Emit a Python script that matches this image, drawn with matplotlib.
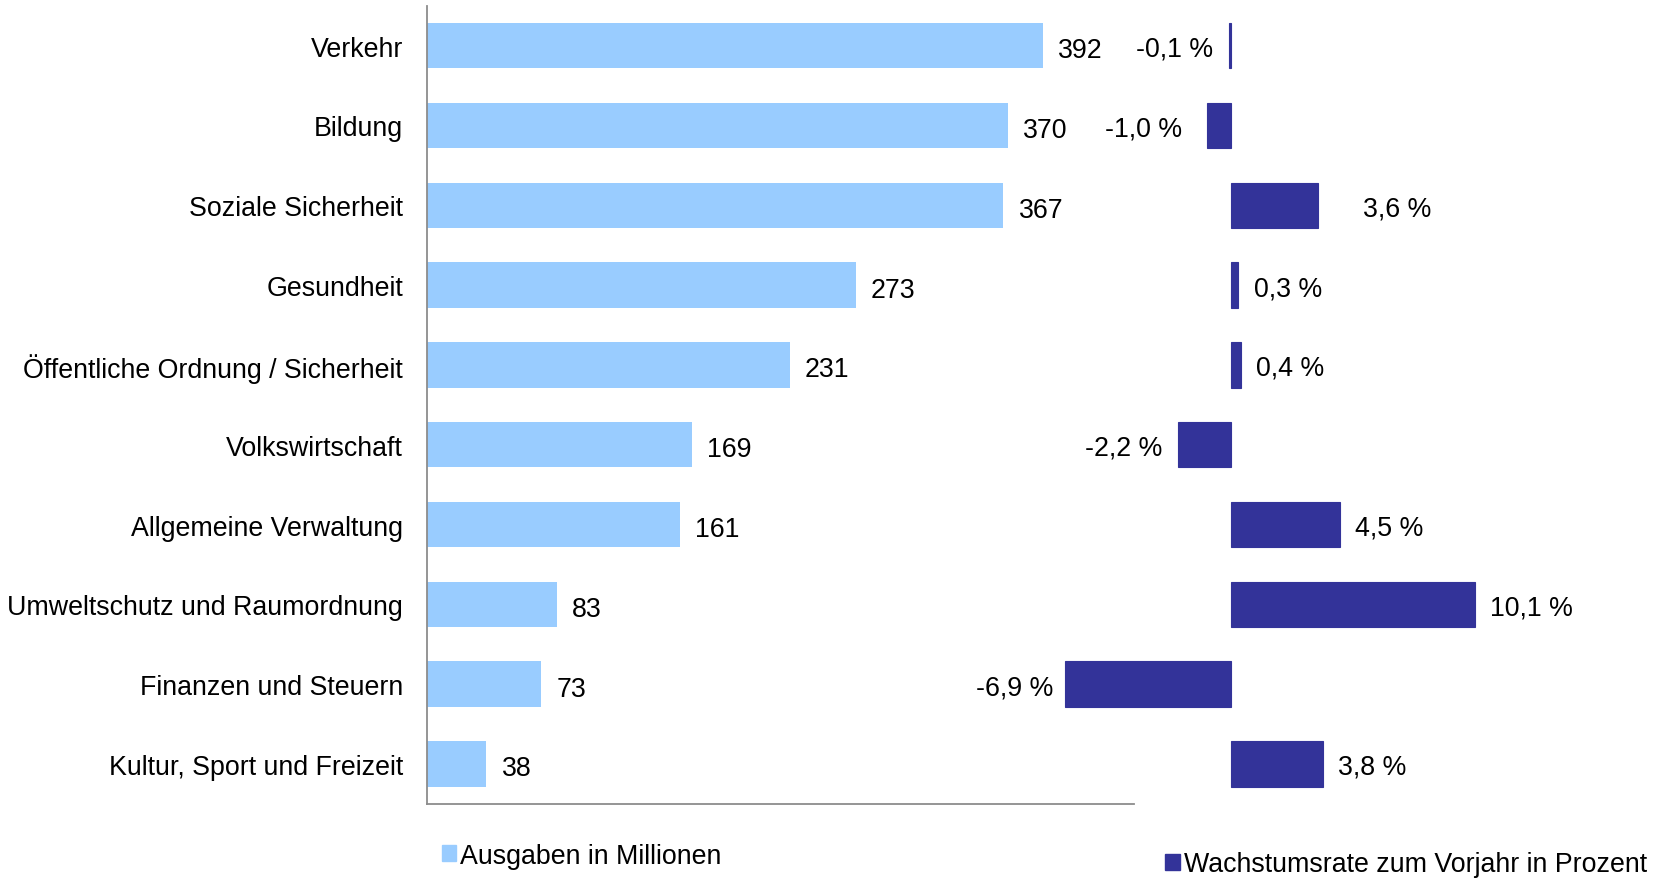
import numpy as np
import matplotlib.pyplot as plt
from matplotlib.patches import Patch

plt.rcParams['font.family'] = ['Liberation Sans', 'DejaVu Sans']

# Kategorien (von oben nach unten)
categories = [
    "Verkehr",
    "Bildung",
    "Soziale Sicherheit",
    "Gesundheit",
    "Öffentliche Ordnung / Sicherheit",
    "Volkswirtschaft",
    "Allgemeine Verwaltung",
    "Umweltschutz und Raumordnung",
    "Finanzen und Steuern",
    "Kultur, Sport und Freizeit",
]
# Ausgaben in Millionen
ausgaben = [392, 370, 367, 273, 231, 169, 161, 83, 73, 38]
# Wachstumsrate zum Vorjahr in Prozent
wachstum = [-0.1, -1.0, 3.6, 0.3, 0.4, -2.2, 4.5, 10.1, -6.9, 3.8]

light = "#99CCFF"
dark = "#333399"
fs = 19.3

fig = plt.figure(figsize=(16.6, 8.79), dpi=100)

# linker Teil: Ausgaben
ax = fig.add_axes([0.257, 0.0843, 0.426, 0.908])
y = np.arange(len(categories))
ax.barh(y, ausgaben, height=0.57, color=light)
ax.set_xlim(0, 450)
ax.set_ylim(len(categories) - 0.5, -0.5)
ax.set_yticks(y)
ax.set_yticklabels(categories, fontsize=fs)
ax.tick_params(axis='y', length=0, pad=17)
ax.set_xticks([])
for s in ["top", "right"]:
    ax.spines[s].set_visible(False)
for s in ["left", "bottom"]:
    ax.spines[s].set_color("#8c8c8c")
    ax.spines[s].set_linewidth(1.3)
for yi, v in zip(y, ausgaben):
    ax.annotate(f"{v}", (v, yi), xytext=(11, -1), textcoords="offset points",
                ha="left", va="center_baseline", fontsize=fs)

# rechter Teil: Wachstumsrate
ax2 = fig.add_axes([0.574, 0.0843, 0.426, 0.908])
ax2.patch.set_alpha(0)
ax2.barh(y, wachstum, height=0.57, color=dark, edgecolor=dark, linewidth=0.8)
ax2.set_xlim(-11.53, 17.76)
ax2.set_ylim(len(categories) - 0.5, -0.5)
ax2.axis("off")
for yi, v in zip(y, wachstum):
    txt = f"{v:.1f} %".replace(".", ",")
    if v < 0:
        pad = -18 if v == -1.0 else (-8 if v == -6.9 else -11)
        ax2.annotate(txt, (v, yi), xytext=(pad, 0), textcoords="offset points",
                     ha="right", va="center_baseline", fontsize=fs)
    else:
        pad = 32 if v == 3.6 else 11
        ax2.annotate(txt, (v, yi), xytext=(pad, 0), textcoords="offset points",
                     ha="left", va="center_baseline", fontsize=fs)

# Legenden
leg_kw = dict(frameon=False, fontsize=fs, handlelength=0.55, handleheight=0.55,
              handletextpad=0.15, borderpad=0, borderaxespad=0)
fig.legend(handles=[Patch(color=light, label="Ausgaben in Millionen")],
           loc="center left", bbox_to_anchor=(0.266, 0.0253), **leg_kw)
fig.legend(handles=[Patch(color=dark, label="Wachstumsrate zum Vorjahr in Prozent")],
           loc="center left", bbox_to_anchor=(0.702, 0.0157), **leg_kw)

fig.savefig("out.png", dpi=100)
